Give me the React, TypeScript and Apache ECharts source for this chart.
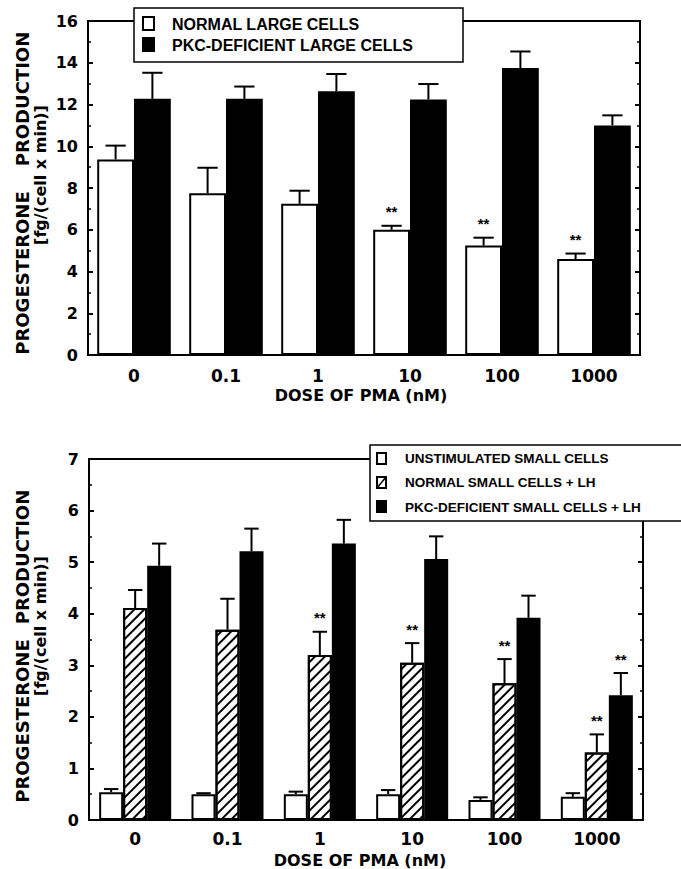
import React, { useEffect, useRef } from "react";
import * as echarts from "echarts";

// ---------- DATA ----------
const categories = ["0", "0.1", "1", "10", "100", "1000"];

// top panel (large cells), 0–16
const normalLarge = [9.37, 7.75, 7.24, 6.0, 5.24, 4.6];
const normalLargeErr = [10.03, 8.97, 7.87, 6.19, 5.62, 4.86];
const normalLargeSig = [0, 0, 0, 1, 1, 1];
const pkcLarge = [12.27, 12.27, 12.63, 12.24, 13.75, 11.0];
const pkcLargeErr = [13.52, 12.86, 13.46, 12.98, 14.54, 11.48];
const pkcLargeSig = [0, 0, 0, 0, 0, 0];

// bottom panel (small cells), 0–7
const unstimSmall = [0.54, 0.5, 0.5, 0.5, 0.39, 0.45];
const unstimSmallErr = [0.6, 0.52, 0.55, 0.58, 0.44, 0.52];
const unstimSmallSig = [0, 0, 0, 0, 0, 0];
const normalSmallLH = [4.11, 3.69, 3.2, 3.05, 2.65, 1.31];
const normalSmallLHErr = [4.46, 4.29, 3.65, 3.43, 3.12, 1.66];
const normalSmallLHSig = [0, 0, 1, 1, 1, 1];
const pkcSmallLH = [4.93, 5.21, 5.36, 5.06, 3.92, 2.42];
const pkcSmallLHErr = [5.36, 5.65, 5.82, 5.5, 4.35, 2.85];
const pkcSmallLHSig = [0, 0, 0, 0, 0, 1];

const legendTop = ["NORMAL LARGE CELLS", "PKC-DEFICIENT LARGE CELLS"];
const legendBottom = [
  "UNSTIMULATED SMALL CELLS",
  "NORMAL SMALL CELLS + LH",
  "PKC-DEFICIENT SMALL CELLS + LH",
];
const xTitle = "DOSE OF PMA (nM)";
const yTitleWords = ["PROGESTERONE", "PRODUCTION"];
const yTitleUnit = "[fg/(cell x min)]";

// ---------- STYLE ----------
const TICK_FONT = "DejaVu Sans";
const LEG_FONT = "Liberation Sans";
const TOP_GAP = 0.2;
const BOT_GAP = 0.22;

const hatch = {
  color: "#000",
  backgroundColor: "#fff",
  symbol: "rect",
  symbolSize: 1,
  dashArrayX: [1, 0],
  dashArrayY: [2, 5],
  rotation: -Math.PI / 4,
};

function errSeries(
  name: string,
  grid: number,
  vals: number[],
  errs: number[],
  sig: number[],
  idx: number,
  n: number,
  gap: number,
  capRatio: number
) {
  return {
    name,
    type: "custom",
    xAxisIndex: grid,
    yAxisIndex: grid * 2,
    z: 5,
    silent: true,
    data: vals.map((v, i) => [i, v, errs[i], sig[i]]),
    renderItem: (params: any, api: any) => {
      const cat = api.value(0);
      const v = api.value(1);
      const e = api.value(2);
      const s = api.value(3);
      const base = api.coord([cat, v]);
      const top = api.coord([cat, e]);
      const band = api.size([1, 0])[0];
      const total = band * (1 - gap);
      const bw = total / n;
      const cx = base[0] - total / 2 + (idx + 0.5) * bw;
      const cap = bw * capRatio;
      const children: any[] = [
        {
          type: "line",
          shape: { x1: cx, y1: base[1], x2: cx, y2: top[1] },
          style: { stroke: "#000", lineWidth: 2 },
        },
        {
          type: "line",
          shape: { x1: cx - cap / 2, y1: top[1], x2: cx + cap / 2, y2: top[1] },
          style: { stroke: "#000", lineWidth: 2 },
        },
      ];
      if (s) {
        children.push({
          type: "text",
          x: cx,
          y: top[1] - 14,
          style: {
            text: "**",
            fill: "#000",
            font: "bold 15px " + LEG_FONT,
            textAlign: "center",
            textVerticalAlign: "middle",
          },
        });
      }
      return { type: "group", children };
    },
  };
}

function yAxes(grid: number, max: number, interval: number) {
  const common = {
    gridIndex: grid,
    type: "value",
    min: 0,
    max,
    interval,
    splitLine: { show: false },
    axisLine: { show: true, lineStyle: { color: "#000", width: 2 } },
    axisTick: { show: true, inside: true, length: 5, lineStyle: { color: "#000", width: 2 } },
    minorTick: { show: true, splitNumber: 2, length: 3, lineStyle: { color: "#000", width: 1.5 } },
  };
  return [
    {
      ...common,
      position: "left",
      axisLabel: {
        show: true,
        color: "#000",
        margin: 10,
        fontFamily: TICK_FONT,
        fontWeight: "bold",
        fontSize: 16,
      },
    },
    {
      ...common,
      position: "right",
      axisLabel: { show: false },
    },
  ];
}

function xAxis(grid: number, margin: number) {
  return {
    gridIndex: grid,
    type: "category",
    data: categories,
    axisLine: { show: true, lineStyle: { color: "#000", width: 2 } },
    axisTick: { show: false },
    axisLabel: {
      color: "#000",
      margin,
      fontFamily: TICK_FONT,
      fontWeight: "bold",
      fontSize: 17,
    },
  };
}

function rotText(text: string, x: number, y: number, size: number) {
  return {
    type: "text",
    x,
    y,
    rotation: Math.PI / 2,
    z: 100,
    style: {
      text,
      fill: "#000",
      font: `bold ${size}px ${TICK_FONT}`,
      textAlign: "center",
      textVerticalAlign: "middle",
    },
  };
}

function hText(text: string, x: number, y: number, size: number, family: string, align = "left") {
  return {
    type: "text",
    x,
    y,
    z: 101,
    style: {
      text,
      fill: "#000",
      font: `bold ${size}px ${family}`,
      textAlign: align,
      textVerticalAlign: "middle",
    },
  };
}

export default function App() {
  const ref = useRef<HTMLDivElement>(null);
  useEffect(() => {
    if (!ref.current) return;
    const chart = echarts.init(ref.current, undefined, { renderer: "svg" });
    const option: any = {
      animation: false,
      backgroundColor: "#fff",
      grid: [
        { left: 88, top: 21, width: 552, height: 334, show: true, borderColor: "#000", borderWidth: 2, backgroundColor: "transparent" },
        { left: 89, top: 459, width: 554, height: 361, show: true, borderColor: "#000", borderWidth: 2, backgroundColor: "transparent" },
      ],
      xAxis: [xAxis(0, 12), xAxis(1, 10)],
      yAxis: [...yAxes(0, 16, 2), ...yAxes(1, 7, 1)],
      series: [
        {
          name: legendTop[0], type: "bar", xAxisIndex: 0, yAxisIndex: 0,
          data: normalLarge, barGap: "0%", barCategoryGap: TOP_GAP * 100 + "%",
          itemStyle: { color: "#fff", borderColor: "#000", borderWidth: 2 },
        },
        {
          name: legendTop[1], type: "bar", xAxisIndex: 0, yAxisIndex: 0,
          data: pkcLarge, barGap: "0%", barCategoryGap: TOP_GAP * 100 + "%",
          itemStyle: { color: "#000", borderColor: "#000", borderWidth: 2 },
        },
        errSeries("e1", 0, normalLarge, normalLargeErr, normalLargeSig, 0, 2, TOP_GAP, 0.55),
        errSeries("e2", 0, pkcLarge, pkcLargeErr, pkcLargeSig, 1, 2, TOP_GAP, 0.55),
        {
          name: legendBottom[0], type: "bar", xAxisIndex: 1, yAxisIndex: 2,
          data: unstimSmall, barGap: "0%", barCategoryGap: BOT_GAP * 100 + "%",
          itemStyle: { color: "#fff", borderColor: "#000", borderWidth: 2 },
        },
        {
          name: legendBottom[1], type: "bar", xAxisIndex: 1, yAxisIndex: 2,
          data: normalSmallLH, barGap: "0%", barCategoryGap: BOT_GAP * 100 + "%",
          itemStyle: { color: "#fff", borderColor: "#000", borderWidth: 2, decal: hatch },
        },
        {
          name: legendBottom[2], type: "bar", xAxisIndex: 1, yAxisIndex: 2,
          data: pkcSmallLH, barGap: "0%", barCategoryGap: BOT_GAP * 100 + "%",
          itemStyle: { color: "#000", borderColor: "#000", borderWidth: 2 },
        },
        errSeries("e3", 1, unstimSmall, unstimSmallErr, unstimSmallSig, 0, 3, BOT_GAP, 0.6),
        errSeries("e4", 1, normalSmallLH, normalSmallLHErr, normalSmallLHSig, 1, 3, BOT_GAP, 0.6),
        errSeries("e5", 1, pkcSmallLH, pkcSmallLHErr, pkcSmallLHSig, 2, 3, BOT_GAP, 0.6),
      ],
      graphic: [
        // y titles top
        rotText(yTitleWords[0], 22, 273, 18),
        rotText(yTitleWords[1], 22, 99, 18),
        rotText(yTitleUnit, 40, 175, 16),
        // y titles bottom
        rotText(yTitleWords[0], 22, 721, 18),
        rotText(yTitleWords[1], 22, 557, 18),
        rotText(yTitleUnit, 40, 626, 16),
        // x titles
        hText(xTitle, 361, 395, 16, TICK_FONT, "center"),
        hText(xTitle, 360, 860, 16, TICK_FONT, "center"),
        // top legend
        {
          type: "rect", z: 100,
          shape: { x: 134, y: 8, width: 329, height: 54 },
          style: { fill: "#fff", stroke: "#000", lineWidth: 1.5 },
        },
        {
          type: "rect", z: 101,
          shape: { x: 143, y: 17, width: 11, height: 13 },
          style: { fill: "#fff", stroke: "#000", lineWidth: 2 },
        },
        {
          type: "rect", z: 101,
          shape: { x: 143, y: 38, width: 11, height: 13 },
          style: { fill: "#000", stroke: "#000", lineWidth: 2 },
        },
        hText(legendTop[0], 172, 24, 16, LEG_FONT),
        hText(legendTop[1], 172, 45, 16, LEG_FONT),
        // bottom legend
        {
          type: "rect", z: 100,
          shape: { x: 370, y: 445, width: 330, height: 76 },
          style: { fill: "#fff", stroke: "#000", lineWidth: 1.5 },
        },
        {
          type: "rect", z: 101,
          shape: { x: 377, y: 453, width: 9, height: 11 },
          style: { fill: "#fff", stroke: "#000", lineWidth: 2 },
        },
        {
          type: "rect", z: 101,
          shape: { x: 377, y: 477, width: 9, height: 11 },
          style: { fill: "#fff", stroke: "#000", lineWidth: 2 },
        },
        {
          type: "line", z: 102,
          shape: { x1: 377, y1: 488, x2: 386, y2: 477 },
          style: { stroke: "#000", lineWidth: 1.5 },
        },
        {
          type: "rect", z: 101,
          shape: { x: 377, y: 501, width: 9, height: 11 },
          style: { fill: "#000", stroke: "#000", lineWidth: 2 },
        },
        hText(legendBottom[0], 405, 458, 13.5, LEG_FONT),
        hText(legendBottom[1], 405, 482, 13.5, LEG_FONT),
        hText(legendBottom[2], 405, 507, 13.5, LEG_FONT),
      ],
    };
    chart.setOption(option);
    return () => chart.dispose();
  }, []);
  return (
    <div
      ref={ref}
      style={{ position: "fixed", left: 0, top: 0, width: 681, height: 869, background: "#fff" }}
    />
  );
}
